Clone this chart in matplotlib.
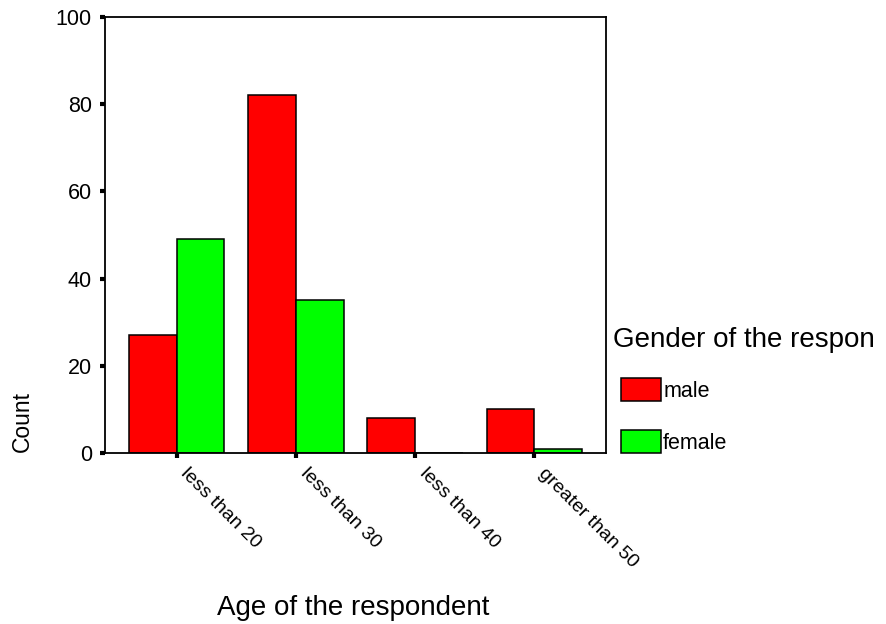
import matplotlib
matplotlib.use("Agg")
import matplotlib.pyplot as plt
import matplotlib.transforms as mtransforms
import numpy as np

categories = ["less than 20", "less than 30", "less than 40", "greater than 50"]
male = [27, 82, 8, 10]
female = [49, 35, 0, 1]
series_labels = ["male", "female"]
legend_title = "Gender of the respon"
y_ticks = [0, 20, 40, 60, 80, 100]

plt.rcParams['font.family'] = ['Liberation Sans', 'DejaVu Sans']

fig = plt.figure(figsize=(8.86, 6.24), dpi=100)
ax = fig.add_axes([105/886, 1-453/624, (606-105)/886, (453-17)/624])

x = np.arange(len(categories))
w = 0.4
b1 = ax.bar(x - w/2, male, w, color="#FF0000", edgecolor="black", linewidth=1.1, label=series_labels[0])
b2 = ax.bar(x + w/2, female, w, color="#00FF00", edgecolor="black", linewidth=1.1, label=series_labels[1])

ax.set_xlim(-0.6, 3.6)
ax.set_ylim(0, 100)
ax.set_yticks(y_ticks)
ax.set_xticks(x)
ax.set_xticklabels(categories, rotation=-45, ha="left", va="top", rotation_mode="anchor")
ax.tick_params(axis="both", direction="out", length=3.5, width=3, color="black")
ax.tick_params(axis="y", pad=6, labelsize=15.5)
ax.tick_params(axis="x", pad=7, labelsize=14)
offset = mtransforms.ScaledTranslation(13/100, 3/100, fig.dpi_scale_trans)
for lbl in ax.get_xticklabels():
    lbl.set_transform(lbl.get_transform() + offset)
for s in ax.spines.values():
    s.set_linewidth(1.3)

ax.set_ylabel("Count", fontsize=16.5)
ax.yaxis.set_label_coords(-0.141, 0.073)
ax.set_xlabel("Age of the respondent", fontsize=20, va="top")
ax.xaxis.set_label_coords(0.495, -0.325)

fig.text(613/886, 1-347/624, legend_title, fontsize=20, ha="left", va="baseline")
leg = ax.legend(handles=[b1, b2], fontsize=15.5,
                loc="upper left", bbox_to_anchor=(621/886, 1-378/624), bbox_transform=fig.transFigure,
                frameon=False, borderpad=0, borderaxespad=0, handlelength=1.86, handleheight=1.266,
                handletextpad=0.1, labelspacing=1.33)

fig.savefig("out.png", dpi=100)
